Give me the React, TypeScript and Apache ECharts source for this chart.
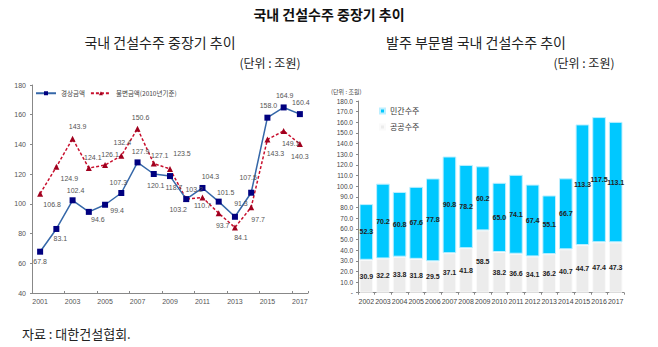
import React, { useEffect, useRef } from "react";
import * as echarts from "echarts";

// ---- data ----
const lineYears = ["2001", "2002", "2003", "2004", "2005", "2006", "2007", "2008", "2009", "2010", "2011", "2012", "2013", "2014", "2015", "2016", "2017"];
const nominalAmount = [67.8, 83.1, 102.4, 94.6, 99.4, 107.3, 127.9, 120.1, 118.7, 103.2, 110.7, 101.5, 91.3, 107.5, 158.0, 164.9, 160.4];
const constantAmount = [106.8, 124.9, 143.9, 124.1, 126.1, 132.4, 150.6, 127.1, 123.5, 103.2, 104.3, 93.7, 84.1, 97.7, 143.3, 149.1, 140.3];

const barYears = ["2002", "2003", "2004", "2005", "2006", "2007", "2008", "2009", "2010", "2011", "2012", "2013", "2014", "2015", "2016", "2017"];
const publicOrders = [30.9, 32.2, 33.8, 31.8, 29.5, 37.1, 41.8, 58.5, 38.2, 36.6, 34.1, 36.2, 40.7, 44.7, 47.4, 47.3];
const privateOrders = [52.3, 70.2, 60.8, 67.6, 77.8, 90.8, 78.2, 60.2, 65.0, 74.1, 67.4, 55.1, 66.7, 113.3, 117.5, 113.1];

const leftAxisRange = [40, 180, 20];
const rightAxisRange = [0, 180, 10];

// ---- label placement (style only) ----
const nominalLabelOffsets = [
  [0, 10], [4, 10], [3, -10], [9, 8], [12, 6], [-3, -11], [3, -11], [2, 12], [4, 11],
  [8, -10], [0, 18], [7, -9], [6, -13], [-3, -15], [1, -12], [1, -12], [1, -12],
];
const constantLabelOffsets = [
  [12, 11], [13, 12], [5, -12], [4, -11], [5, -11], [1, -13], [3, -11], [6, -8], [12, -15],
  [-8, 10], [8, -21], [4, 12], [6, 10], [7, 12], [8, 14], [7, 13], [0, 13],
];

const FONT = "'Noto Sans CJK KR', sans-serif";
const NUMFONT = "'Liberation Sans', 'Noto Sans CJK KR', sans-serif";

export default function App() {
  const ref = useRef<HTMLDivElement>(null);
  useEffect(() => {
    if (!ref.current) return;
    const chart = echarts.init(ref.current, undefined, { renderer: "svg" });
    const option: any = {
      animation: false,
      backgroundColor: "#ffffff",
      textStyle: { fontFamily: FONT },
      graphic: [
        { type: "text", x: 329, y: 14, style: { text: "국내 건설수주 중장기 추이", font: `bold 14px ${FONT}`, fill: "#111", textAlign: "center", textVerticalAlign: "middle" } },
        { type: "text", x: 160, y: 42, style: { text: "국내 건설수주 중장기 추이", font: `14px ${FONT}`, fill: "#222", textAlign: "center", textVerticalAlign: "middle" } },
        { type: "text", x: 476, y: 42, style: { text: "발주 부문별 국내 건설수주 추이", font: `14px ${FONT}`, fill: "#222", textAlign: "center", textVerticalAlign: "middle" } },
        { type: "text", x: 270, y: 62, style: { text: "(단위 : 조원)", font: `12px ${FONT}`, fill: "#222", textAlign: "center", textVerticalAlign: "middle" } },
        { type: "text", x: 584, y: 62, style: { text: "(단위 : 조원)", font: `12px ${FONT}`, fill: "#222", textAlign: "center", textVerticalAlign: "middle" } },
        { type: "text", x: 331, y: 91, style: { text: "(단위 : 조원)", font: `6px ${FONT}`, fill: "#444", textVerticalAlign: "middle" } },
        { type: "text", x: 22, y: 333, style: { text: "자료 : 대한건설협회.", font: `13px ${FONT}`, fill: "#222", textVerticalAlign: "middle" } },
      ],
      legend: [
        {
          left: 35, top: 90, padding: 0,
          itemWidth: 20, itemHeight: 5, itemGap: 5,
          textStyle: { fontSize: 6.5, color: "#444", fontFamily: FONT },
          data: ["경상금액", "불변금액(2010년기준)"],
        },
        {
          left: 379, top: 107, orient: "vertical", padding: 0,
          itemWidth: 5, itemHeight: 5, itemGap: 8,
          icon: "rect",
          textStyle: { fontSize: 8, color: "#333", fontFamily: FONT },
          data: ["민간수주", "공공수주"],
        },
      ],
      grid: [
        { left: 32, top: 85, width: 276, height: 208 },
        { left: 358, top: 101, width: 266, height: 191.7 },
      ],
      xAxis: [
        {
          gridIndex: 0, type: "category", data: lineYears, boundaryGap: true,
          axisLine: { lineStyle: { color: "#888" } },
          axisTick: { show: true, inside: true, length: 2, lineStyle: { color: "#888" } },
          axisLabel: { interval: 1, fontSize: 7, color: "#555", margin: 5, fontFamily: NUMFONT },
        },
        {
          gridIndex: 1, type: "category", data: barYears, boundaryGap: true,
          axisLine: { lineStyle: { color: "#888" } },
          axisTick: { show: true, length: 2, lineStyle: { color: "#888" } },
          axisLabel: { interval: 0, fontSize: 7, color: "#444", margin: 5, fontFamily: NUMFONT },
        },
      ],
      yAxis: [
        {
          gridIndex: 0, type: "value", min: leftAxisRange[0], max: leftAxisRange[1], interval: leftAxisRange[2],
          splitLine: { show: false },
          axisLine: { show: true, lineStyle: { color: "#888" } },
          axisTick: { show: true, length: 2, lineStyle: { color: "#888" } },
          axisLabel: { fontSize: 7, color: "#555", margin: 6, fontFamily: NUMFONT },
        },
        {
          gridIndex: 1, type: "value", min: rightAxisRange[0], max: rightAxisRange[1], interval: rightAxisRange[2],
          splitLine: { show: false },
          axisLine: { show: true, lineStyle: { color: "#888" } },
          axisTick: { show: true, length: 2, lineStyle: { color: "#888" } },
          axisLabel: { fontSize: 6.5, color: "#444", margin: 5, fontFamily: NUMFONT, formatter: (v: number) => (v === 0 ? "-" : v.toFixed(1)) },
        },
      ],
      series: [
        {
          name: "경상금액", type: "line", xAxisIndex: 0, yAxisIndex: 0,
          symbol: "rect", symbolSize: 6,
          lineStyle: { color: "#3567a8", width: 1.5 },
          itemStyle: { color: "#00007f" },
          label: { show: true, position: "inside", fontSize: 7, color: "#555", fontFamily: NUMFONT, formatter: (p: any) => Number(p.value).toFixed(1) },
          data: nominalAmount.map((v, i) => ({ value: v, label: { offset: nominalLabelOffsets[i] } })),
          z: 3,
        },
        {
          name: "불변금액(2010년기준)", type: "line", xAxisIndex: 0, yAxisIndex: 0,
          symbol: "triangle", symbolSize: 6,
          lineStyle: { color: "#c8102e", width: 1.5, type: [3, 2] },
          itemStyle: { color: "#a0001e" },
          label: { show: true, position: "inside", fontSize: 7, color: "#555", fontFamily: NUMFONT, formatter: (p: any) => Number(p.value).toFixed(1) },
          data: constantAmount.map((v, i) => ({ value: v, label: { offset: constantLabelOffsets[i] } })),
          z: 2,
        },
        {
          name: "공공수주", type: "bar", xAxisIndex: 1, yAxisIndex: 1, stack: "orders",
          barCategoryGap: "18%",
          itemStyle: { color: "#ececec", borderColor: "#fafafa", borderWidth: 1 },
          label: { show: true, position: "inside", fontSize: 7, fontWeight: "bold", color: "#222", fontFamily: NUMFONT, formatter: (p: any) => Number(p.value).toFixed(1) },
          data: publicOrders,
        },
        {
          name: "민간수주", type: "bar", xAxisIndex: 1, yAxisIndex: 1, stack: "orders",
          barCategoryGap: "18%",
          itemStyle: { color: "#00c8ff", borderColor: "#bdefff", borderWidth: 1 },
          label: { show: true, position: "inside", fontSize: 7, fontWeight: "bold", color: "#222", fontFamily: NUMFONT, formatter: (p: any) => Number(p.value).toFixed(1) },
          data: privateOrders,
        },
      ],
    };
    chart.setOption(option);
    return () => chart.dispose();
  }, []);
  return <div ref={ref} style={{ position: "absolute", left: 0, top: 0, width: 658, height: 347 }} />;
}
